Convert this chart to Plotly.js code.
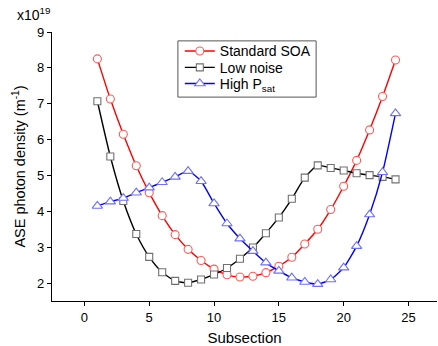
<!DOCTYPE html>
<html>
<head>
<meta charset="utf-8">
<script src="https://cdn.plot.ly/plotly-3.0.1.min.js"></script>
<style>html,body{margin:0;padding:0;background:#fff;}#chart{width:438px;height:346px;}</style>
</head>
<body>
<div id="chart"></div>
<script>
const subsection = [1,2,3,4,5,6,7,8,9,10,11,12,13,14,15,16,17,18,19,20,21,22,23,24];
const standardSOA = [8.25,7.13,6.15,5.27,4.52,3.88,3.35,2.94,2.63,2.39,2.23,2.17,2.19,2.29,2.47,2.72,3.09,3.50,4.05,4.70,5.42,6.27,7.20,8.22];
const lowNoise = [7.07,5.53,4.29,3.37,2.73,2.30,2.06,2.01,2.10,2.24,2.42,2.68,2.99,3.39,3.83,4.35,4.94,5.28,5.21,5.14,5.06,5.01,4.96,4.89];
const highPsat = [4.15,4.27,4.37,4.52,4.66,4.81,4.96,5.12,4.84,4.22,3.66,3.24,2.89,2.57,2.34,2.15,2.03,1.97,2.10,2.43,3.03,3.91,5.09,6.73];
const xTicks = [0,5,10,15,20,25];
const yTicks = [2,3,4,5,6,7,8,9];
const seriesNames = ['Standard SOA','Low noise','High P<sub>sat</sub>'];

const font = 'Liberation Sans, Arial, sans-serif';
function tr(y, name, lineColor, sym, size, mcolor, leg){
  return {x: subsection, y: y, name: name, type:'scatter', mode:'lines+markers', legend: leg,
    line:{color:lineColor, width:1.4, shape:'spline', smoothing:0.6},
    marker:{symbol:sym, size:size, color:'#ffffff', line:{color:mcolor, width:1.1}}};
}
const data = [
  tr(standardSOA, seriesNames[0], '#ff0000', 'circle', 8, '#ff5a5a', 'legend'),
  tr(lowNoise, seriesNames[1], '#000000', 'square', 7, '#707070', 'legend2'),
  tr(highPsat, seriesNames[2], '#0000ff', 'triangle-up', 9, '#6f6fff', 'legend3')
];
function leg(y){
  return {x:0.332, y:y, xanchor:'left', yanchor:'middle', bgcolor:'rgba(0,0,0,0)', borderwidth:0,
    font:{family:font, size:14, color:'#000'}, itemwidth:30};
}
const layout = {
  width:438, height:346,
  margin:{l:52, r:1, t:32, b:45},
  paper_bgcolor:'#fff', plot_bgcolor:'#fff',
  font:{family:font, color:'#000', size:13},
  showlegend:true,
  legend: leg(0.928),
  legend2: leg(0.867),
  legend3: leg(0.807),
  shapes:[{type:'rect', xref:'paper', yref:'paper', x0:0.327, x1:0.686, y0:0.758, y1:0.967,
    line:{color:'#555', width:1}, fillcolor:'rgba(255,255,255,1)', layer:'below'}],
  xaxis:{range:[-2.5,27.2], tickvals:xTicks, ticks:'outside', ticklen:4, tickcolor:'#000', showgrid:false, zeroline:false,
    showline:true, linecolor:'#000', linewidth:1.2, tickfont:{size:13},
    title:{text:'Subsection', font:{size:15}, standoff:8}},
  yaxis:{range:[1.5,9], tickvals:yTicks, ticks:'outside', ticklen:4, tickcolor:'#000', showgrid:false, zeroline:false,
    showline:true, linecolor:'#000', linewidth:1.2, tickfont:{size:13},
    title:{text:'ASE photon density (m<sup>-1</sup>)', font:{size:14.5}, standoff:7}},
  annotations:[{xref:'paper', yref:'paper', x:-0.095, y:1.025, xanchor:'left', yanchor:'bottom', showarrow:false,
    text:'x10<sup>19</sup>', font:{size:14, family:font}}]
};
Plotly.newPlot('chart', data, layout, {displayModeBar:false, staticPlot:true});
</script>
</body>
</html>
